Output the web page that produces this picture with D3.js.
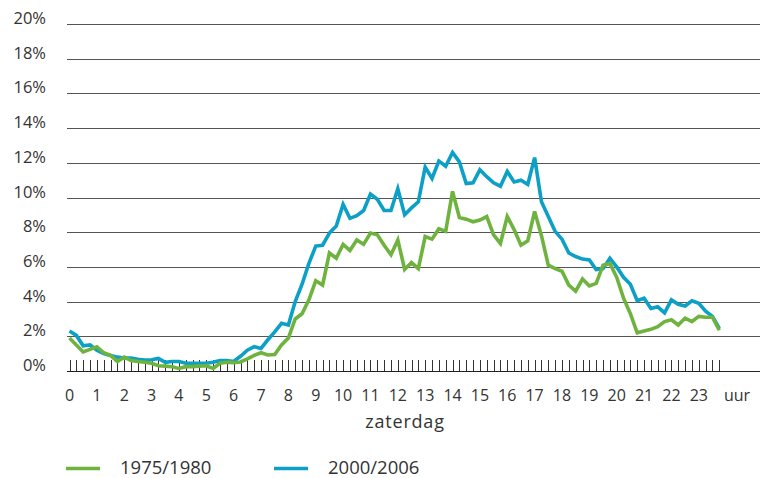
<!DOCTYPE html>
<html>
<head>
<meta charset="utf-8">
<script src="https://cdn.jsdelivr.net/npm/d3@7"></script>
<style>
  body { margin: 0; background: #fff; }
  svg text { font-family: "Open Sans", sans-serif; fill: #333; }
</style>
</head>
<body>
<div id="chart"></div>
<script>
    // share per quarter of an hour, saturday
    const hours = d3.range(0, 24, 0.25)
    const hourLabels = d3.range(0, 24)
    const yTicks = [0, 2, 4, 6, 8, 10, 12, 14, 16, 18, 20]
    const seriesNames = ["1975/1980", "2000/2006"]

    const share1975 = [
        1.9, 1.5, 1.1, 1.25,
        1.4, 1.05, 0.9, 0.55,
        0.8, 0.6, 0.55, 0.5,
        0.45, 0.3, 0.28, 0.25,
        0.15, 0.25, 0.25, 0.28,
        0.3, 0.15, 0.45, 0.5,
        0.48, 0.52, 0.7, 0.9,
        1.05, 0.92, 0.95, 1.5,
        1.9, 3.0, 3.3, 4.1,
        5.2, 4.95, 6.8, 6.5,
        7.3, 6.95, 7.55, 7.3,
        7.95, 7.85, 7.25, 6.7,
        7.55, 5.85, 6.25, 5.9,
        7.75, 7.6, 8.2, 8.05,
        10.35, 8.85, 8.75, 8.6,
        8.7, 8.9, 7.85, 7.35,
        8.9, 8.15, 7.25, 7.5,
        9.2, 7.8, 6.1, 5.9,
        5.75, 4.95, 4.6, 5.3,
        4.9, 5.05, 6.1, 6.2,
        5.4, 4.2, 3.3, 2.2,
        2.3, 2.4, 2.55, 2.85,
        2.95, 2.65, 3.05, 2.85,
        3.15, 3.1, 3.1, 2.35
    ]

    const share2000 = [
        2.3, 2.05, 1.45, 1.5,
        1.2, 1.0, 0.9, 0.8,
        0.75, 0.75, 0.68, 0.63,
        0.65, 0.72, 0.5, 0.55,
        0.55, 0.45, 0.45, 0.45,
        0.45, 0.5, 0.6, 0.6,
        0.55, 0.85, 1.2, 1.4,
        1.3, 1.8, 2.25, 2.75,
        2.65, 4.0, 5.0, 6.2,
        7.2, 7.25, 7.95, 8.35,
        9.6, 8.8, 8.95, 9.25,
        10.2, 9.9, 9.25, 9.25,
        10.5, 9.0, 9.4, 9.75,
        11.75, 11.1, 12.1, 11.8,
        12.6, 12.05, 10.8, 10.85,
        11.6, 11.2, 10.85, 10.65,
        11.5, 10.9, 11.0, 10.75,
        12.3, 9.75, 8.9, 8.05,
        7.6, 6.8, 6.6, 6.45,
        6.4, 5.85, 5.9, 6.5,
        6.0, 5.4, 5.0, 4.05,
        4.2, 3.6, 3.7, 3.35,
        4.1, 3.85, 3.75, 4.05,
        3.9, 3.45, 3.15, 2.45
    ]

    const colors = ["#6fb33f", "#0ca0c7"]

    const w = 761
    const h = 478

    const x = d3.scaleLinear()
        .domain([0, 1])
        .range([69.5, 96.86])

    const y = d3.scaleLinear()
        .domain([0, 20])
        .range([371, 24])

    const svg = d3.select("#chart")
        .append("svg")
        .attr("width", w)
        .attr("height", h)

    // horizontal grid
    svg.selectAll("line.grid")
        .data(yTicks.slice(1))
        .enter()
        .append("line")
        .attr("class", "grid")
        .attr("x1", 67)
        .attr("x2", 760)
        .attr("y1", d => Math.round(y(d)) + 0.5)
        .attr("y2", d => Math.round(y(d)) + 0.5)
        .attr("stroke", "#555")
        .attr("stroke-width", 1.2)

    svg.selectAll("text.ylab")
        .data(yTicks)
        .enter()
        .append("text")
        .attr("class", "ylab")
        .attr("x", 46)
        .attr("y", d => y(d))
        .attr("text-anchor", "end")
        .style("font-size", "16.5px")
        .text(d => d + "%")

    // quarter hour ticks
    svg.selectAll("line.qtick")
        .data(hours)
        .enter()
        .append("line")
        .attr("class", "qtick")
        .attr("x1", d => Math.round(x(d)) + 0.5)
        .attr("x2", d => Math.round(x(d)) + 0.5)
        .attr("y1", 360)
        .attr("y2", 371)
        .attr("stroke", "#333")
        .attr("stroke-width", 1)

    svg.append("line")
        .attr("x1", 67)
        .attr("x2", 760)
        .attr("y1", 371.5)
        .attr("y2", 371.5)
        .attr("stroke", "#222")
        .attr("stroke-width", 1.2)

    svg.selectAll("text.xlab")
        .data(hourLabels)
        .enter()
        .append("text")
        .attr("class", "xlab")
        .attr("x", d => x(d))
        .attr("y", 401)
        .attr("text-anchor", "middle")
        .style("font-size", "16px")
        .text(d => d)

    svg.append("text")
        .attr("x", x(24.4))
        .attr("y", 401)
        .attr("text-anchor", "middle")
        .style("font-size", "16px")
        .text("uur")

    svg.append("text")
        .attr("x", 405)
        .attr("y", 428)
        .attr("text-anchor", "middle")
        .style("font-size", "18px")
        .style("letter-spacing", "0.8px")
        .text("zaterdag")

    const line = d3.line()
        .x((d, i) => x(hours[i]))
        .y(d => y(d))

    svg.append("path")
        .datum(share2000)
        .attr("d", line)
        .attr("fill", "none")
        .attr("stroke", colors[1])
        .attr("stroke-width", 3.6)
        .attr("stroke-linejoin", "miter")

    svg.append("path")
        .datum(share1975)
        .attr("d", line)
        .attr("fill", "none")
        .attr("stroke", colors[0])
        .attr("stroke-width", 3.6)
        .attr("stroke-linejoin", "miter")

    // legend
    const legendX = [66, 274]
    const leg = svg.selectAll("g.leg")
        .data(seriesNames)
        .enter()
        .append("g")
        .attr("class", "leg")
        .attr("transform", (d, i) => "translate(" + legendX[i] + ",0)")

    leg.append("line")
        .attr("x1", 0)
        .attr("x2", 34)
        .attr("y1", 468.5)
        .attr("y2", 468.5)
        .attr("stroke", (d, i) => colors[i])
        .attr("stroke-width", 3.5)

    leg.append("text")
        .attr("x", 54)
        .attr("y", 474)
        .style("font-size", "18.5px")
        .text(d => d)
</script>
</body>
</html>
